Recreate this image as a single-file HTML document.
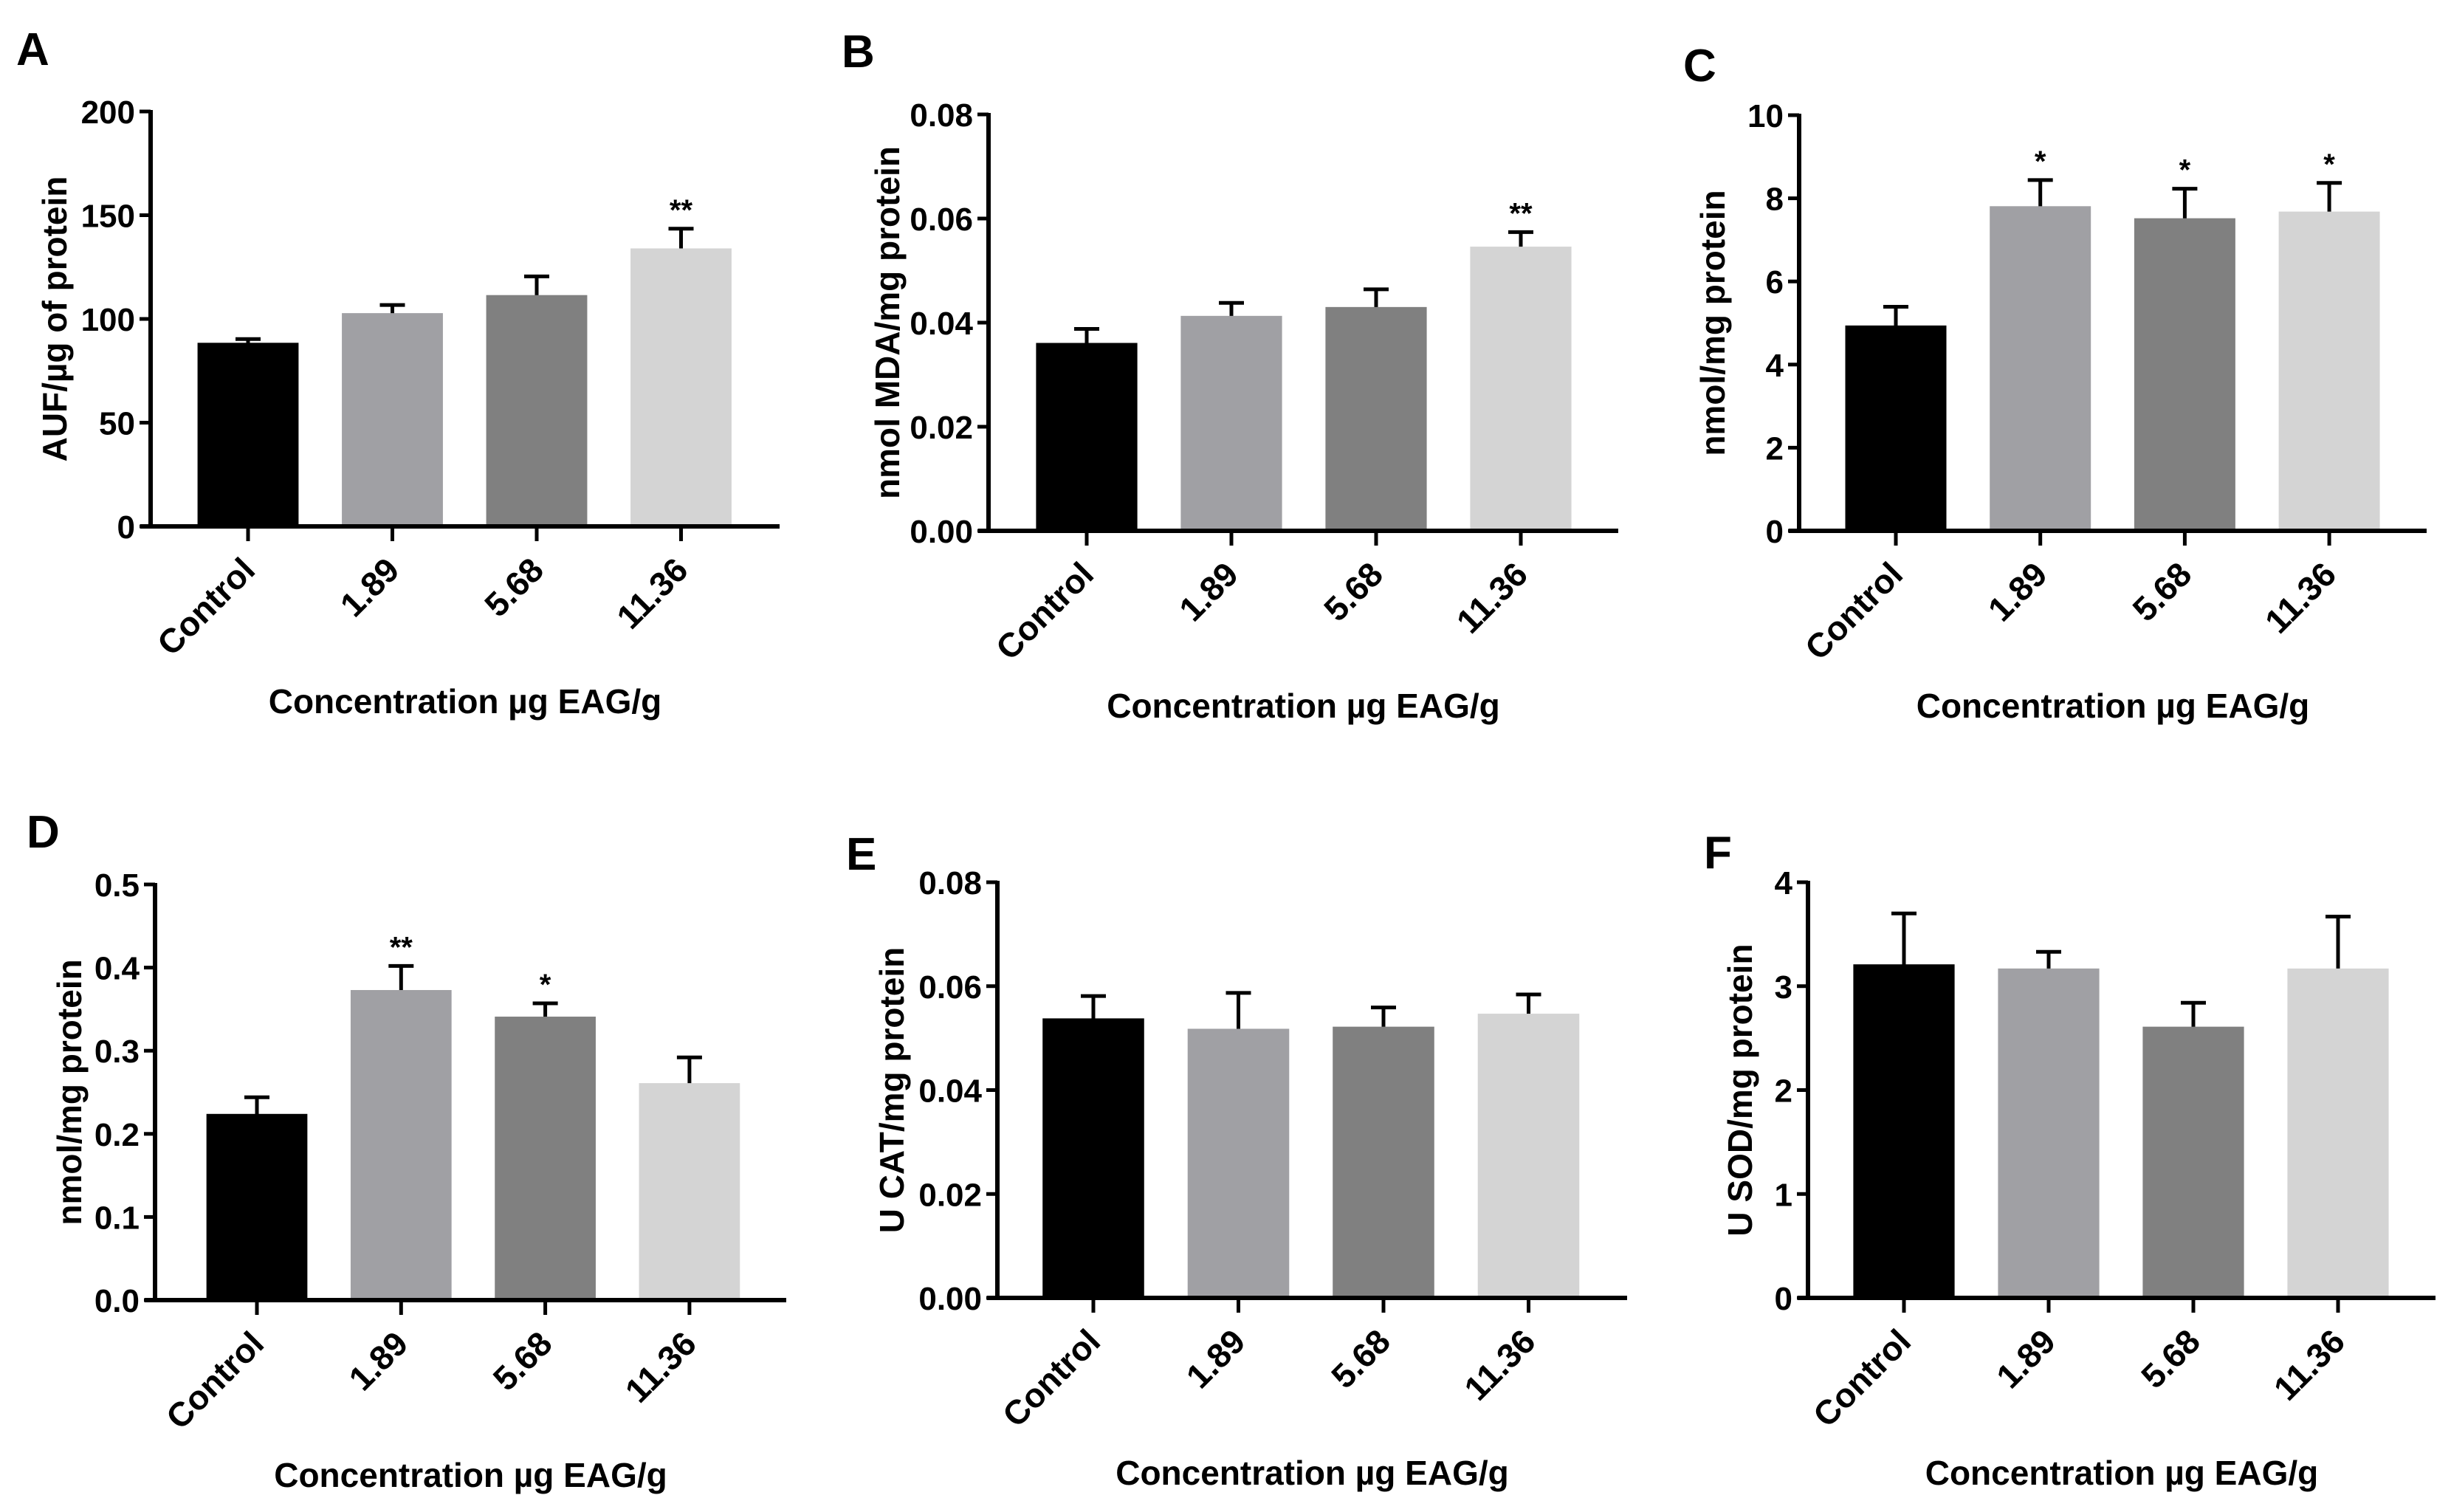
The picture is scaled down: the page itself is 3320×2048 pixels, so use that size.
<!DOCTYPE html>
<html><head><meta charset="utf-8">
<style>
html,body{margin:0;padding:0;background:#fff;}
svg{display:block;}
text{font-family:"Liberation Sans",Arial,sans-serif;font-weight:bold;fill:#000;}
</style></head>
<body>
<svg id="fig" width="3320" height="2048" viewBox="0 0 3320 2048"></svg>
<script>
const categories = ["Control","1.89","5.68","11.36"];
const barColors = ["#000000","#a0a0a4","#808080","#d4d4d4"];

const valuesA = [88.5, 102.8, 111.5, 134];
const errorsA = [1.8, 3.9, 9.0, 9.5];
const starsA = ["", "", "", "**"];
const ticksA = [0, 50, 100, 150, 200];
const tickLabelsA = ["0","50","100","150","200"];

const valuesB = [0.0361, 0.0413, 0.0430, 0.0546];
const errorsB = [0.0027, 0.0025, 0.0034, 0.0028];
const starsB = ["", "", "", "**"];
const ticksB = [0, 0.02, 0.04, 0.06, 0.08];
const tickLabelsB = ["0.00","0.02","0.04","0.06","0.08"];

const valuesC = [4.94, 7.81, 7.52, 7.68];
const errorsC = [0.45, 0.63, 0.71, 0.69];
const starsC = ["", "*", "*", "*"];
const ticksC = [0, 2, 4, 6, 8, 10];
const tickLabelsC = ["0","2","4","6","8","10"];

const valuesD = [0.224, 0.373, 0.341, 0.261];
const errorsD = [0.020, 0.029, 0.016, 0.031];
const starsD = ["", "**", "*", ""];
const ticksD = [0, 0.1, 0.2, 0.3, 0.4, 0.5];
const tickLabelsD = ["0.0","0.1","0.2","0.3","0.4","0.5"];

const valuesE = [0.0538, 0.0518, 0.0522, 0.0547];
const errorsE = [0.0043, 0.0069, 0.0037, 0.0037];
const starsE = ["", "", "", ""];
const ticksE = [0, 0.02, 0.04, 0.06, 0.08];
const tickLabelsE = ["0.00","0.02","0.04","0.06","0.08"];

const valuesF = [3.21, 3.17, 2.61, 3.17];
const errorsF = [0.49, 0.16, 0.23, 0.50];
const starsF = ["", "", "", ""];
const ticksF = [0, 1, 2, 3, 4];
const tickLabelsF = ["0","1","2","3","4"];

const NS = "http://www.w3.org/2000/svg";
const svg = document.getElementById("fig");
function mk(tag, attrs, parent){
  const e = document.createElementNS(NS, tag);
  for (const k in attrs) e.setAttribute(k, attrs[k]);
  (parent||svg).appendChild(e);
  return e;
}

function panel(cfg){
  const g = mk("g", {});
  
  
  const {ax, top, zero, right, x0, pitch, ymax} = cfg;
  const yS = v => zero - (v / ymax) * (zero - top);
  const xS = i => x0 + i * pitch;
  const bw = pitch * 0.7;

  const L = mk("text", {x: cfg.lx, y: cfg.ly, "font-size": 62}, g);
  L.textContent = cfg.letter;
  
  

  cfg.values.forEach((v, i) => {
    const cx = xS(i);
    const et = yS(v + cfg.errors[i]);
    const eb = mk("line", {x1: cx, x2: cx, y1: yS(v) + 12, y2: et, stroke: "#000", "stroke-width": 5}, g);
    
    
    const ec = mk("line", {x1: cx - 17, x2: cx + 17, y1: et, y2: et, stroke: "#000", "stroke-width": 5}, g);
    
    
    const r = mk("rect", {x: cx - bw/2, y: yS(v), width: bw, height: zero - yS(v), fill: barColors[i]}, g);
    
    
    if (cfg.stars[i]) {
      const s = mk("text", {x: cx, y: et - 12, "font-size": 40, "text-anchor": "middle", "font-weight": "normal"}, g);
      s.textContent = cfg.stars[i];
      
      
    }
    const t = mk("line", {x1: cx, x2: cx, y1: zero, y2: zero + 20, stroke: "#000", "stroke-width": 5}, g);
    
    
    const px = cx + 12, py = zero + 62;
    const lbl = mk("text", {x: px, y: py, "font-size": 46, "text-anchor": "end", transform: `rotate(-45 ${px} ${py})`}, g);
    lbl.textContent = categories[i];
    
    
  });

  const ya = mk("line", {x1: ax, x2: ax, y1: top - 2, y2: zero + 3, stroke: "#000", "stroke-width": 6}, g);
  
  
  const xa = mk("line", {x1: ax - 14, x2: right, y1: zero, y2: zero, stroke: "#000", "stroke-width": 6}, g);
  
  

  cfg.ticks.forEach((tv, j) => {
    const y = yS(tv);
    const tk = mk("line", {x1: ax - 15, x2: ax, y1: y, y2: y, stroke: "#000", "stroke-width": 5}, g);
    
    
    const tl = mk("text", {x: ax - 21, y: y + 16, "font-size": 44, "text-anchor": "end"}, g);
    tl.textContent = cfg.tickLabels[j];
    
    
  });

  const ty = (top + zero) / 2;
  const yt = mk("text", {x: cfg.ytx, y: ty, "font-size": 46, "text-anchor": "middle", transform: `rotate(-90 ${cfg.ytx} ${ty})`}, g);
  yt.textContent = cfg.ytitle;
  
  

  const xt = mk("text", {x: (ax + right) / 2, y: zero + 253, "font-size": 46, "text-anchor": "middle"}, g);
  xt.textContent = "Concentration \u00b5g EAG/g";
  
  
}

panel({letter:"A", lx:22, ly:88, ax:204, top:151, zero:713, right:1056, x0:336, pitch:195.5, ymax:200,
  values:valuesA, errors:errorsA, stars:starsA, ticks:ticksA, tickLabels:tickLabelsA, ytitle:"AUF/\u00b5g of protein", ytx:90});
panel({letter:"B", lx:1140, ly:91, ax:1339, top:155, zero:719, right:2192, x0:1472, pitch:196, ymax:0.08,
  values:valuesB, errors:errorsB, stars:starsB, ticks:ticksB, tickLabels:tickLabelsB, ytitle:"nmol MDA/mg protein", ytx:1218});
panel({letter:"C", lx:2280, ly:110, ax:2437, top:156, zero:719, right:3287, x0:2568, pitch:195.7, ymax:10,
  values:valuesC, errors:errorsC, stars:starsC, ticks:ticksC, tickLabels:tickLabelsC, ytitle:"nmol/mg protein", ytx:2336});
panel({letter:"D", lx:36, ly:1148, ax:210, top:1198, zero:1761, right:1065, x0:348, pitch:195.3, ymax:0.5,
  values:valuesD, errors:errorsD, stars:starsD, ticks:ticksD, tickLabels:tickLabelsD, ytitle:"nmol/mg protein", ytx:110});
panel({letter:"E", lx:1146, ly:1178, ax:1351, top:1195, zero:1758, right:2204, x0:1481, pitch:196.5, ymax:0.08,
  values:valuesE, errors:errorsE, stars:starsE, ticks:ticksE, tickLabels:tickLabelsE, ytitle:"U CAT/mg protein", ytx:1224});
panel({letter:"F", lx:2308, ly:1176, ax:2449, top:1195, zero:1758, right:3299, x0:2579, pitch:196, ymax:4,
  values:valuesF, errors:errorsF, stars:starsF, ticks:ticksF, tickLabels:tickLabelsF, ytitle:"U SOD/mg protein", ytx:2373});
</script>
</body></html>
